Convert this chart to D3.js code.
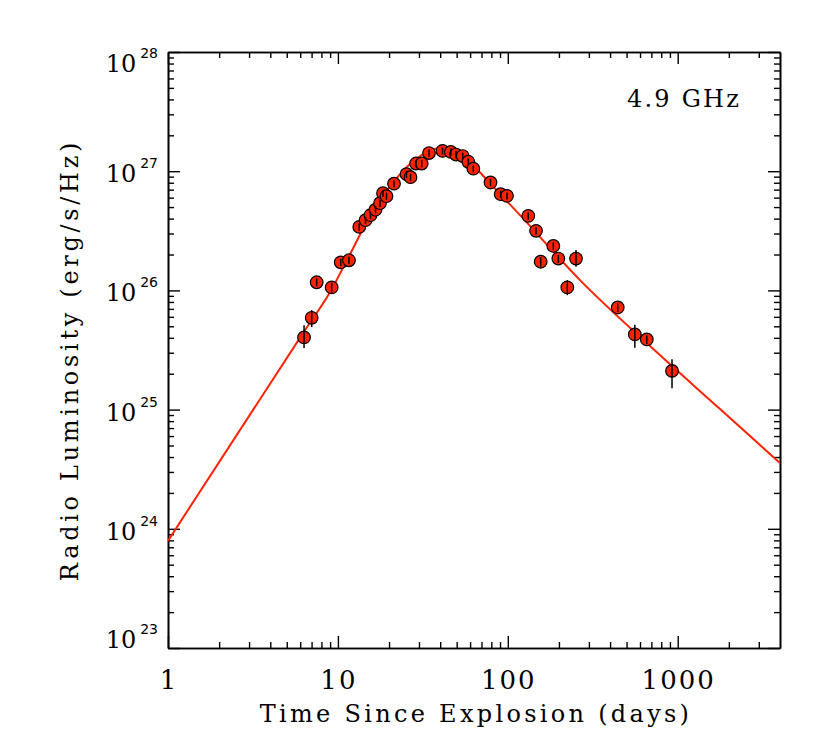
<html>
<meta charset="utf-8">
<head>
  <title>Radio Luminosity 4.9 GHz</title>
  <style>
    body, html { margin: 0; padding: 0; background: white; }
    text { font-family: 'DejaVu Serif', serif; fill: black; }
    .axis path { stroke: black; stroke-width: 1.6; }
    .axis line { stroke: black; stroke-width: 1.4; }
  </style>
  <script src="https://d3js.org/d3.v7.min.js"></script>
</head>
<body>
<div id="chart"></div>
<script>
// observed points: days, luminosity, error bar low/high
var days = [6.32, 7.01, 7.50, 9.19, 10.39, 11.62, 13.36, 14.54, 15.56, 16.65,
            17.69, 18.43, 19.32, 21.39, 25.34, 26.75, 28.83, 31.13, 34.37, 41.28,
            46.19, 49.56, 54.27, 58.56, 62.66, 79.1, 90.8, 98.9, 132.0, 146.6,
            156.2, 185.3, 198.3, 224.0, 252.0, 443.6, 559.3, 657.8, 925.7];
var lum  = [4.03e25, 5.89e25, 1.17e26, 1.06e26, 1.72e26, 1.79e26, 3.41e26, 3.88e26, 4.28e26, 4.75e26,
            5.39e26, 6.54e26, 6.17e26, 7.86e26, 9.44e26, 8.91e26, 1.16e27, 1.16e27, 1.42e27, 1.48e27,
            1.45e27, 1.38e27, 1.34e27, 1.20e27, 1.05e27, 8.04e26, 6.41e26, 6.21e26, 4.22e26, 3.16e26,
            1.74e26, 2.36e26, 1.85e26, 1.06e26, 1.85e26, 7.19e25, 4.27e25, 3.88e25, 2.11e25];
var lum_lo = [3.28e25, 4.92e25, 1.08e26, 9.6e25, 1.60e26, 1.66e26, 3.17e26, 3.61e26, 3.98e26, 4.42e26,
              5.01e26, 6.08e26, 5.74e26, 7.31e26, 8.78e26, 8.29e26, 1.08e27, 1.08e27, 1.32e27, 1.38e27,
              1.35e27, 1.28e27, 1.25e27, 1.12e27, 9.8e26, 7.48e26, 5.96e26, 5.78e26, 3.92e26, 2.94e26,
              1.58e26, 2.19e26, 1.70e26, 9.12e25, 1.58e26, 6.60e25, 3.31e25, 3.55e25, 1.51e25];
var lum_hi = [5.11e25, 6.83e25, 1.26e26, 1.16e26, 1.84e26, 1.92e26, 3.65e26, 4.15e26, 4.58e26, 5.08e26,
              5.77e26, 7.00e26, 6.60e26, 8.41e26, 1.01e27, 9.53e26, 1.24e27, 1.24e27, 1.52e27, 1.58e27,
              1.55e27, 1.48e27, 1.43e27, 1.28e27, 1.12e27, 8.60e26, 6.86e26, 6.64e26, 4.52e26, 3.38e26,
              1.90e26, 2.53e26, 1.98e26, 1.22e26, 2.18e26, 7.80e25, 5.16e25, 4.20e25, 2.64e25];

// fitted light curve
var model_days = [1, 6.40, 8.98, 11.78, 14.44, 17.69, 21.69, 26.57,
                  32.56, 39.9, 48.9, 59.9, 78.6, 118, 266, 687, 1775, 4000];
var model_lum  = [7.94e23, 4.64e25, 9.66e25, 2.01e26, 3.52e26, 5.71e26, 8.41e26, 1.15e27,
                  1.42e27, 1.56e27, 1.50e27, 1.19e27, 7.92e26, 4.28e26, 1.22e26, 3.41e25, 1.01e25, 3.56e24];

var x_major = [1, 10, 100, 1000];
var y_major = [1e23, 1e24, 1e25, 1e26, 1e27, 1e28];

var band_label = "4.9 GHz";
var x_title = "Time Since Explosion (days)";
var y_title = "Radio Luminosity (erg/s/Hz)";

var margin = { top: 52, right: 50, bottom: 107, left: 168 };
var width = 830 - margin.left - margin.right;
var height = 755 - margin.top - margin.bottom;

var x = d3.scaleLog().domain([1, 4000]).range([0, width]);
var y = d3.scaleLog().domain([1e23, 1e28]).range([height, 0]);

function minors(majors, lastMax) {
  var out = [];
  majors.forEach(function(m) {
    for (var k = 2; k <= 9; k++) {
      if (m * k < lastMax) out.push(m * k);
    }
  });
  return out;
}
var x_minor = minors(x_major, 4000);
var y_minor = minors(y_major.slice(0, 5), 1e28);

var svg = d3.select("#chart")
            .append("svg")
            .attr("width", 830)
            .attr("height", 755);

var chart = svg.append("g")
               .attr("transform", "translate(" + margin.left + "," + margin.top + ")");

// ticks point inward on all four sides
function tickAxis(axisFn, scale, values, size, tr) {
  return chart.append("g")
              .attr("class", "axis")
              .attr("transform", tr)
              .call(axisFn(scale).tickValues(values).tickSize(-size).tickSizeOuter(0).tickFormat(""));
}
tickAxis(d3.axisBottom, x, x_minor, 6, "translate(0," + height + ")");
tickAxis(d3.axisBottom, x, x_major, 12, "translate(0," + height + ")");
tickAxis(d3.axisTop, x, x_minor, 6, "translate(0,0)");
tickAxis(d3.axisTop, x, x_major, 12, "translate(0,0)");
tickAxis(d3.axisLeft, y, y_minor, 6, "translate(0,0)");
tickAxis(d3.axisLeft, y, y_major, 12, "translate(0,0)");
tickAxis(d3.axisRight, y, y_minor, 6, "translate(" + width + ",0)");
tickAxis(d3.axisRight, y, y_major, 12, "translate(" + width + ",0)");

// x tick labels
chart.selectAll(".xlab")
     .data(x_major)
     .enter()
     .append("text")
     .attr("class", "xlab")
     .attr("x", function(d) { return x(d) + 1; })
     .attr("y", height + 41)
     .attr("text-anchor", "middle")
     .style("font-size", "26px")
     .style("letter-spacing", "2px")
     .text(function(d) { return d; });

// y tick labels as 10^n
var ylab = chart.selectAll(".ylab")
                .data(y_major)
                .enter()
                .append("text")
                .attr("class", "ylab")
                .attr("x", -10)
                .attr("y", function(d, i) {
                  var off = 11;
                  if (i === 0) off = 0;
                  if (i === y_major.length - 1) off = 20;
                  return y(d) + off;
                })
                .attr("text-anchor", "end")
                .style("font-size", "24px");
ylab.append("tspan").text("10");
ylab.append("tspan")
    .attr("dx", 4)
    .attr("dy", -14)
    .style("font-size", "14px")
    .style("font-family", "'DejaVu Sans', sans-serif")
    .text(function(d) { return Math.round(Math.log10(d)); });

// titles
chart.append("text")
     .attr("x", width / 2 + 2)
     .attr("y", height + 74)
     .attr("text-anchor", "middle")
     .style("font-size", "24px")
     .style("letter-spacing", "3.3px")
     .text(x_title);

chart.append("text")
     .attr("transform", "translate(" + (78 - margin.left) + "," + (height / 2 + 10) + ") rotate(-90)")
     .attr("text-anchor", "middle")
     .style("font-size", "24px")
     .style("letter-spacing", "3.7px")
     .text(y_title);

chart.append("text")
     .attr("x", 741 - margin.left)
     .attr("y", 107 - margin.top)
     .attr("text-anchor", "end")
     .style("font-size", "24px")
     .style("letter-spacing", "2.2px")
     .text(band_label);

// model curve, clipped to the frame
svg.append("clipPath").attr("id", "frame")
   .append("rect").attr("width", width).attr("height", height);

var line = d3.line()
             .x(function(d) { return x(d[0]); })
             .y(function(d) { return y(d[1]); })
             .curve(d3.curveMonotoneX);

chart.append("path")
     .datum(d3.zip(model_days, model_lum))
     .attr("clip-path", "url(#frame)")
     .attr("fill", "none")
     .attr("stroke", "#ff2200")
     .attr("stroke-width", 2)
     .attr("d", line);

var pts = d3.range(days.length);

chart.selectAll(".pt")
     .data(pts)
     .enter()
     .append("circle")
     .attr("class", "pt")
     .attr("cx", function(i) { return x(days[i]); })
     .attr("cy", function(i) { return y(lum[i]); })
     .attr("r", 6.3)
     .attr("fill", "#ff2200")
     .attr("stroke", "black")
     .attr("stroke-width", 1.2);

chart.selectAll(".err")
     .data(pts)
     .enter()
     .append("line")
     .attr("class", "err")
     .attr("x1", function(i) { return x(days[i]); })
     .attr("x2", function(i) { return x(days[i]); })
     .attr("y1", function(i) { return y(lum_lo[i]); })
     .attr("y2", function(i) { return y(lum_hi[i]); })
     .attr("stroke", "black")
     .attr("stroke-width", 1.5);
</script>
</body>
</html>
